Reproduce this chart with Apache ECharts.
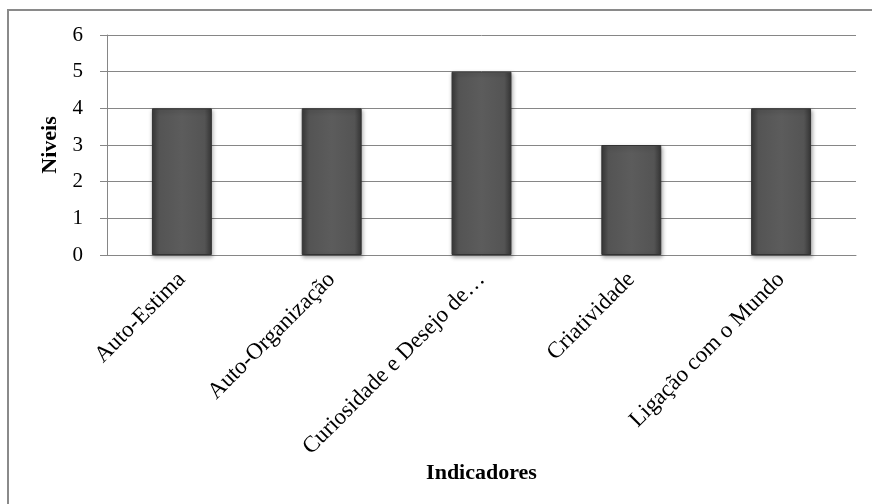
<!DOCTYPE html>
<html>
<head>
<meta charset="utf-8">
<script src="https://cdn.jsdelivr.net/npm/echarts@6/dist/echarts.min.js"></script>
<style>
  html, body { margin: 0; padding: 0; background: #fff; }
  #chart { width: 872px; height: 504px; }
</style>
</head>
<body>
<div id="chart"></div>
<script>
// Indicator categories and their levels
const categories = ['Auto-Estima', 'Auto-Organização', 'Curiosidade e Desejo de…', 'Criatividade', 'Ligação com o Mundo'];
const levels = [4, 4, 5, 3, 4];
const yTicks = [0, 1, 2, 3, 4, 5, 6];

const serif = '"Liberation Serif", "Times New Roman", serif';

const chart = echarts.init(document.getElementById('chart'), null, { renderer: 'canvas' });

const barFill = new echarts.graphic.LinearGradient(0, 0, 1, 0, [
  { offset: 0, color: '#3a3a3a' },
  { offset: 0.12, color: '#545454' },
  { offset: 0.5, color: '#5c5c5c' },
  { offset: 0.88, color: '#545454' },
  { offset: 1, color: '#363636' }
]);

chart.setOption({
  animation: false,
  backgroundColor: '#ffffff',
  grid: { left: 107, right: 16, top: 35, bottom: 249, containLabel: false },
  graphic: [
    {
      type: 'rect',
      shape: { x: 8, y: 10, width: 900, height: 600 },
      style: { fill: 'none', stroke: '#8a8a8a', lineWidth: 2 },
      silent: true,
      z: 100
    }
  ],
  xAxis: {
    type: 'category',
    data: categories,
    name: 'Indicadores',
    nameLocation: 'middle',
    nameGap: 203,
    nameTextStyle: { fontFamily: serif, fontSize: 22, fontWeight: 'bold', color: '#000' },
    axisLine: { show: true, lineStyle: { color: '#868686', width: 1 } },
    axisTick: { show: false },
    axisLabel: {
      rotate: 45,
      interval: 0,
      margin: 21,
      fontFamily: serif,
      fontSize: 23,
      color: '#000'
    }
  },
  yAxis: {
    type: 'value',
    min: yTicks[0],
    max: yTicks[yTicks.length - 1],
    interval: 1,
    name: 'Niveis',
    nameLocation: 'middle',
    nameGap: 45,
    nameRotate: 90,
    nameTextStyle: { fontFamily: serif, fontSize: 22, fontWeight: 'bold', color: '#000' },
    axisLine: { show: true, lineStyle: { color: '#868686', width: 1 } },
    axisTick: { show: true, length: 7, lineStyle: { color: '#868686', width: 1 } },
    axisLabel: { fontFamily: serif, fontSize: 21, color: '#000', margin: 24 },
    splitLine: { show: true, lineStyle: { color: '#868686', width: 1 } }
  },
  series: [
    {
      type: 'bar',
      data: levels,
      barWidth: '40%',
      itemStyle: {
        color: barFill,
        borderColor: '#333333',
        borderWidth: 1,
        shadowColor: 'rgba(0,0,0,0.35)',
        shadowBlur: 4,
        shadowOffsetX: 1,
        shadowOffsetY: 2
      }
    }
  ]
});
</script>
</body>
</html>
